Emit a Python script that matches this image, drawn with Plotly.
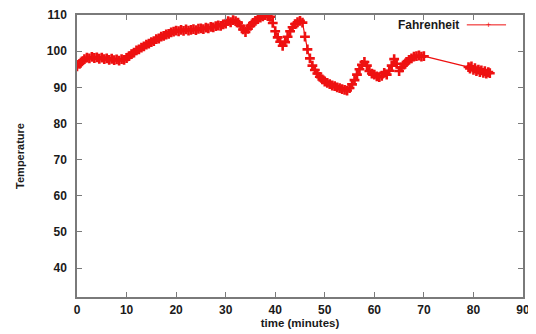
import plotly.graph_objects as go

time_min = [
    0.0, 0.5, 1.0, 1.5, 2.0, 2.5, 3.0, 3.5, 4.0, 4.5, 5.0, 5.5, 6.0, 6.5, 7.0, 7.5, 8.0, 8.5, 9.0, 9.5,
    10.0, 10.5, 11.0, 11.5, 12.0, 12.5, 13.0, 13.5, 14.0, 14.5, 15.0, 15.5, 16.0, 16.5, 17.0, 17.5, 18.0, 18.5, 19.0, 19.5,
    20.0, 20.5, 21.0, 21.5, 22.0, 22.5, 23.0, 23.5, 24.0, 24.5, 25.0, 25.5, 26.0, 26.5, 27.0, 27.5, 28.0, 28.5, 29.0, 29.5,
    30.0, 30.5, 31.0, 31.5, 32.0, 32.5, 33.0, 33.5, 34.0, 34.5, 35.0, 35.5, 36.0, 36.5, 37.0, 37.5, 38.0, 38.5, 39.0, 39.5,
    40.0, 40.5, 41.0, 41.5, 42.0, 42.5, 43.0, 43.5, 44.0, 44.5, 45.0, 45.5, 46.0, 46.5, 47.0, 47.5, 48.0, 48.5, 49.0, 49.5,
    50.0, 50.5, 51.0, 51.5, 52.0, 52.5, 53.0, 53.5, 54.0, 54.5, 55.0, 55.5, 56.0, 56.5, 57.0, 57.5, 58.0, 58.5, 59.0, 59.5,
    60.0, 60.5, 61.0, 61.5, 62.0, 62.5, 63.0, 63.5, 64.0, 64.5, 65.0, 65.5, 66.0, 66.5, 67.0, 67.5, 68.0, 68.5, 69.0, 69.5,
    70.0,
    79.0, 79.3, 79.6, 80.0, 80.3, 80.6, 81.0, 81.3, 81.6, 82.0, 82.3, 82.6, 83.0, 83.3,
]

fahrenheit = [
    95.8, 96.5, 97.2, 97.8, 98.2, 98.0, 98.4, 98.1, 98.3, 97.9, 98.2, 97.8, 98.0, 97.6, 97.9, 97.5, 97.7, 97.4, 97.8, 97.6,
    98.1, 98.6, 99.2, 99.6, 100.2, 100.5, 101.0, 101.3, 101.8, 102.1, 102.5, 102.8, 103.3, 103.5, 104.0, 104.2, 104.6, 104.8, 105.2, 105.4,
    105.7, 105.5, 105.9, 105.6, 106.0, 105.7, 105.9, 106.1, 105.8, 106.2, 106.3, 106.1, 106.5, 106.3, 106.7, 106.6, 106.9, 107.1, 107.0, 107.4,
    107.6, 108.3, 108.0, 108.6, 108.3, 107.9, 107.0, 106.0, 105.3, 106.2, 107.0, 107.8, 108.4, 108.9, 109.3, 109.6, 110.0, 109.7, 109.5, 107.8,
    105.5, 103.8, 102.6, 101.5, 102.5, 104.0, 105.5, 106.6, 107.5, 108.0, 108.4, 107.9, 104.0, 100.5, 98.0, 96.0, 94.8, 93.8, 92.9, 92.2,
    91.6, 91.2, 90.9, 90.5, 90.3, 90.0, 89.8, 89.5, 89.3, 89.1, 89.8, 90.8, 92.0, 93.5, 95.0, 96.2, 97.0, 96.0, 94.5, 93.8,
    93.5, 93.0, 92.8, 93.2, 94.0, 93.5, 94.6, 96.0, 97.8, 96.5, 94.5, 95.5, 96.3, 97.0, 97.6, 98.0, 98.5, 98.6, 98.8, 98.5,
    98.6,
    95.6, 95.2, 95.8, 94.8, 95.3, 94.5, 94.9, 94.2, 94.7, 94.0, 94.5, 93.8, 94.2, 93.9,
]

x_ticks = [0, 10, 20, 30, 40, 50, 60, 70, 80, 90]
y_ticks = [40, 50, 60, 70, 80, 90, 100, 110]

RED = "#ee1111"
FRAME = "#7a7a7a"
FONT = "Liberation Sans"
TXT = "#1a1a1a"

fig = go.Figure()
fig.add_trace(go.Scatter(
    x=time_min, y=fahrenheit, name="Fahrenheit", mode="lines+markers",
    line=dict(color=RED, width=1.2),
    marker=dict(symbol="cross-thin", size=7, line=dict(color=RED, width=2.6)),
    showlegend=False,
))

axis_common = dict(
    showline=True, linecolor=FRAME, linewidth=1.5, mirror="ticks",
    ticks="inside", ticklen=5, tickcolor=FRAME, tickwidth=1.2,
    showgrid=False, zeroline=False, automargin=False,
    tickfont=dict(family=FONT, size=12, color=TXT, weight="bold"),
)

fig.update_layout(
    width=528, height=326,
    margin=dict(l=69, r=13, t=7, b=37, autoexpand=False),
    paper_bgcolor="white", plot_bgcolor="white",
    xaxis=dict(range=[0, 90], tickvals=x_ticks, ticklabelstandoff=1,
               title=dict(text="time (minutes)", standoff=2,
                          font=dict(family=FONT, size=11.5, color=TXT, weight="bold")),
               **axis_common),
    yaxis=dict(range=[32, 110], tickvals=y_ticks, ticklabelstandoff=6,
               title=dict(text="Temperature", standoff=20,
                          font=dict(family=FONT, size=11, color=TXT, weight="bold")),
               **axis_common),
)

# legend (gnuplot style: text left of sample)
fig.add_annotation(x=0.861, y=0.965, xref="paper", yref="paper", text="Fahrenheit",
                   showarrow=False, xanchor="right", yanchor="middle",
                   font=dict(family=FONT, size=12, color=TXT, weight="bold"))
fig.add_shape(type="line", xref="paper", yref="paper", x0=0.874, x1=0.962, y0=0.965, y1=0.965,
              line=dict(color=RED, width=1))
fig.add_annotation(x=0.922, y=0.965, xref="paper", yref="paper", text="+",
                   showarrow=False, xanchor="center", yanchor="middle",
                   font=dict(family=FONT, size=9, color=RED))

fig.write_html("out.html")
